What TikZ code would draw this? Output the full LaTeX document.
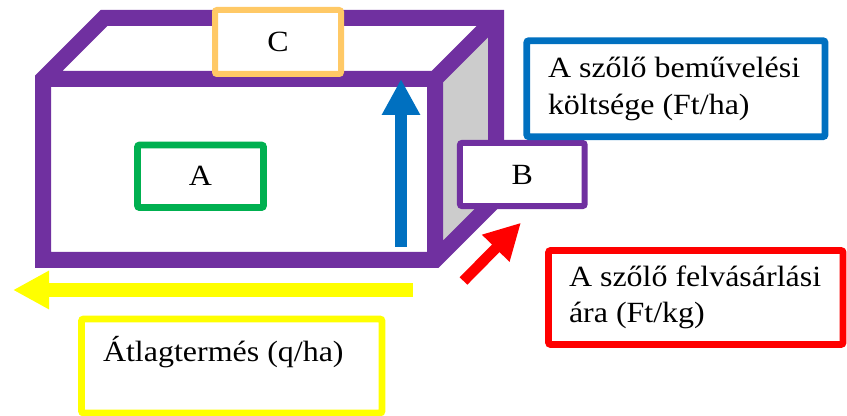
\documentclass[tikz,border=0pt]{standalone}
\usepackage{fontspec}
\setmainfont{Liberation Serif}[FakeStretch=1.09]
\usetikzlibrary{arrows.meta}
\definecolor{BoxPurple}{HTML}{7030A0}
\definecolor{SideGrey}{HTML}{CCCCCC}
\definecolor{CostBlue}{HTML}{0070C0}
\definecolor{YieldYellow}{HTML}{FFFF00}
\definecolor{PriceRed}{HTML}{FF0000}
\definecolor{AreaGreen}{HTML}{00B050}
\definecolor{TopOrange}{HTML}{FFC966}
\begin{document}
\begin{tikzpicture}[x=0.75pt,y=-0.75pt,every node/.style={font=\fontsize{22}{27.5}\selectfont,text=black,inner sep=0pt,outer sep=0pt},
 tagbox/.style={draw=#1,fill=white,line width=5pt,rounded corners=1.5pt},
 flow/.style={draw=#1,line width=9pt,-{Triangle[length=27pt,width=27pt]}}]
\useasboundingbox (0,0) rectangle (847,416);
% cuboid
\fill[SideGrey] (435,79)--(496,18)--(496,199)--(435,260)--cycle;
\draw[BoxPurple,line width=12pt] (43,79)--(104,18)--(496,18)--(496,199)--(435,260)--(43,260)--cycle (43,79)--(435,79)--(435,260) (435,79)--(496,18);
% labels on the faces
\node[tagbox=TopOrange,line width=4.5pt,minimum width=94.5pt,minimum height=48pt] (C) at (278,42){C};
\node[tagbox=AreaGreen,minimum width=94.5pt,minimum height=46.9pt] (A) at (200.5,176.3){A};
\node[tagbox=BoxPurple,line width=4.5pt,minimum width=93.5pt,minimum height=47.3pt] (B) at (522.3,174.5){B};
% explanation boxes
\node[tagbox=CostBlue,minimum width=223.7pt,minimum height=72pt] (costbox) at (675.9,88.7){};
\node[anchor=west,align=left] (costtext) at (548,88.7){A szőlő beművelési\\költsége (Ft/ha)};
\node[tagbox=PriceRed,minimum width=220.9pt,minimum height=70.5pt] (pricebox) at (695.8,297.5){};
\node[anchor=west,align=left] (pricetext) at (569,297.5){A szőlő felvásárlási\\ára (Ft/kg)};
\node[tagbox=YieldYellow,minimum width=225.4pt,minimum height=70.5pt] (yieldbox) at (231.75,366){};
\node[anchor=base west] (yieldtext) at (103,361.7){Átlagtermés (q/ha)};
% arrows
\coordinate (costtail) at (401,247); \coordinate (costtip) at (401,79);
\coordinate (yieldtail) at (413,290); \coordinate (yieldtip) at (13,290);
\coordinate (pricetail) at (463.5,281); \coordinate (pricetip) at (521,222.7);
\draw[flow=CostBlue] (costtail)--(costtip);
\draw[flow=YieldYellow,line width=10pt] (yieldtail)--(yieldtip);
\draw[flow=PriceRed,line width=8pt] (pricetail)--(pricetip);
\end{tikzpicture}
\end{document}
